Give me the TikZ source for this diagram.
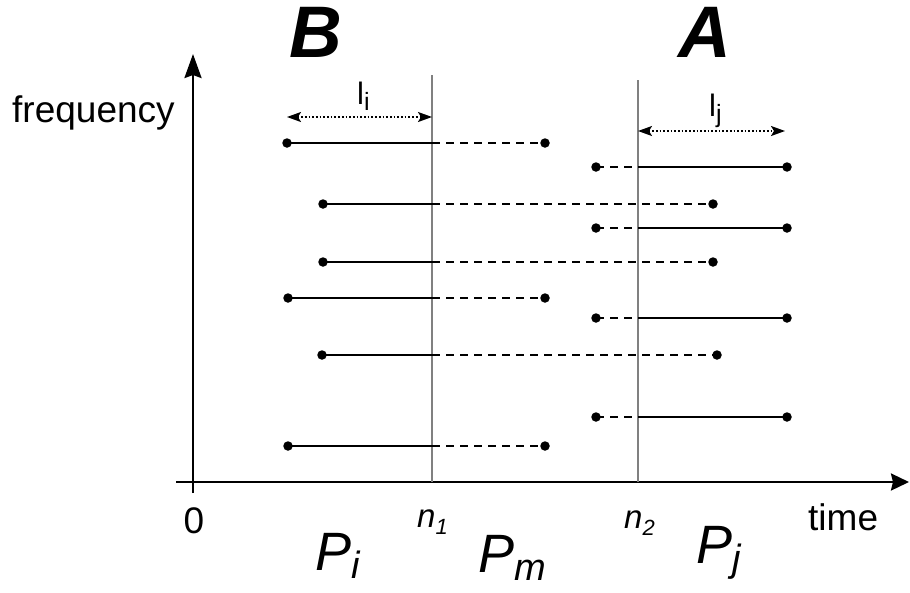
\documentclass[tikz,border=0pt]{standalone}
\usepackage{fontspec}
\setmainfont{Liberation Sans}
\usetikzlibrary{arrows.meta}
\tikzset{
  dot/.style={circle,fill=black,inner sep=0pt,minimum size=9.5pt},
  seg/.style={line width=1.7pt},
  dseg/.style={line width=1.7pt,dash pattern=on 8pt off 6pt},
  marker/.style={line width=1.8pt,draw=black!50},
  axis/.style={line width=2.6pt},
  span/.style={line width=1.7pt,dotted,{Stealth[length=14pt,width=10pt,inset=3pt]}-{Stealth[length=14pt,width=10pt,inset=3pt]}},
  lbl/.style={inner sep=0pt,font=\fontsize{37}{40}\selectfont},
  big/.style={inner sep=0pt,font=\fontsize{73}{76}\selectfont\bfseries\itshape},
  pl/.style={inner sep=0pt,font=\fontsize{54}{58}\selectfont\itshape},
  slbl/.style={inner sep=0pt,font=\fontsize{31}{32}\selectfont},
}
\begin{document}
\begin{tikzpicture}[x=1pt,y=-1pt]
\useasboundingbox (0,0) rectangle (910,592);
% axes
\coordinate (xs) at (176,482);
\coordinate (xe) at (909,482);
\coordinate (ys) at (193,493);
\coordinate (ye) at (193,54);
\draw[axis,-{Stealth[length=18pt,width=17pt,inset=2pt]}] (xs) -- (xe);
\draw[axis,-{Stealth[length=24pt,width=17pt,inset=3pt]}] (ys) -- (ye);
% marker lines
\coordinate (n1t) at (432,75);
\coordinate (n1b) at (432,482);
\coordinate (n2t) at (638,80);
\coordinate (n2b) at (638,482);
\draw[marker] (n1t) -- (n1b);
\draw[marker] (n2t) -- (n2b);
% left group
\foreach \i/\y/\xa/\xb in {1/143/287/545, 2/204/323/713, 3/262/323/713, 4/298/288/545, 5/355/322/717, 6/446/288/545}{
  \node[dot] (L\i a) at (\xa,\y) {};
  \coordinate (L\i c) at (432,\y);
  \node[dot] (L\i b) at (\xb,\y) {};
  \draw[seg] (L\i a.center) -- (L\i c);
  \draw[dseg] (L\i c) -- (L\i b.center);
}
% right group
\foreach \i/\y in {1/167, 2/228, 3/318, 4/417}{
  \node[dot] (R\i a) at (596,\y) {};
  \coordinate (R\i c) at (638,\y);
  \node[dot] (R\i b) at (787,\y) {};
  \draw[dseg] (R\i a.center) -- (R\i c);
  \draw[seg] (R\i c) -- (R\i b.center);
}
% spans
\coordinate (li1) at (287,117);
\coordinate (li2) at (432,117);
\coordinate (lj1) at (638,131);
\coordinate (lj2) at (785,131);
\draw[span] (li1) -- (li2);
\draw[span] (lj1) -- (lj2);
\node[slbl,anchor=base west] (lil) at (357,104) {l\raisebox{-6pt}{\fontsize{25}{25}\selectfont i}};
\node[slbl,anchor=base west] (ljl) at (709,116) {l\raisebox{-6pt}{\fontsize{25}{25}\selectfont j}};
% labels
\node[big,anchor=base] (B) at (316,57) {B};
\node[big,anchor=base] (A) at (705,57) {A};
\node[lbl,anchor=base west] (freq) at (12,122) {frequency};
\node[lbl,anchor=base] (zero) at (194,533) {0};
\node[lbl,anchor=base west] (time) at (808,530) {time};
\node[inner sep=0pt,anchor=base west,font=\fontsize{33}{34}\selectfont\itshape] (n1) at (417,527) {n\raisebox{-7pt}{\fontsize{22}{22}\selectfont 1}};
\node[inner sep=0pt,anchor=base west,font=\fontsize{33}{34}\selectfont\itshape] (n2) at (624,528) {n\raisebox{-7pt}{\fontsize{22}{22}\selectfont 2}};
\node[pl,anchor=base west] (Pi) at (315,570) {P\raisebox{-8pt}{\fontsize{38}{38}\selectfont i}};
\node[pl,anchor=base west] (Pm) at (478,572) {P\raisebox{-8pt}{\fontsize{38}{38}\selectfont m}};
\node[pl,anchor=base west] (Pj) at (696,563) {P\raisebox{-8pt}{\fontsize{38}{38}\selectfont j}};
\end{tikzpicture}
\end{document}
